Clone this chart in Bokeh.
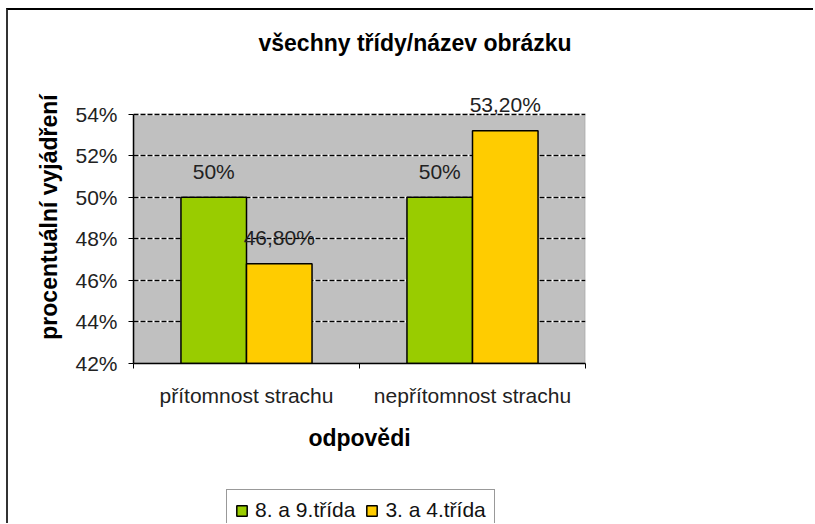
from bokeh.plotting import figure
from bokeh.layouts import column
from bokeh.models import (ColumnDataSource, Range1d, LinearAxis, BoxAnnotation,
                          FixedTicker, Grid, Legend, LegendItem, LabelSet, PrintfTickFormatter)
from bokeh.core.properties import value
from bokeh.transform import dodge
from bokeh.embed import file_html
from bokeh.resources import INLINE

# ---- data ----
categories = ["přítomnost strachu", "nepřítomnost strachu"]
series_names = ["8. a 9.třída", "3. a 4.třída"]
values_89 = [50.0, 50.0]
values_34 = [46.8, 53.2]
labels_89 = ["50%", "50%"]
labels_34 = ["46,80%", "53,20%"]
y_ticks = [42, 44, 46, 48, 50, 52, 54]
title_text = "všechny třídy/název obrázku"
x_title = "odpovědi"
y_title = "procentuální vyjádření"

# ---- style / layout ----
FONT = "Liberation Sans"
GREEN = "#99CC00"
YELLOW = "#FFCC00"
BG = "#C0C0C0"
BAR_W = 0.29
OFF = BAR_W / 2
Y_END = 56.1          # head-room above the 54% plot area for the data labels
LEFT = 125

n = len(categories)
centers = [i + 0.5 for i in range(n)]      # category slot centres on a 0..n axis
bounds = list(range(n + 1))                # slot boundaries (tick marks)

W, H = 805, 477
p = figure(width=W, height=H,
           x_range=Range1d(0, n),
           y_range=Range1d(y_ticks[0], Y_END),
           output_backend="svg", toolbar_location=None,
           x_axis_location=None, y_axis_location="left",
           min_border_left=LEFT, min_border_right=228,
           min_border_top=60, min_border_bottom=124)

p.background_fill_color = "white"
p.border_fill_color = "white"
p.outline_line_color = None

# grey plot area (42%..54%)
p.add_layout(BoxAnnotation(bottom=y_ticks[0], top=y_ticks[-1], fill_color=BG, fill_alpha=1,
                           line_color="#808080", line_width=2, level="image"))

# title
p.title.text = title_text
p.title.align = "left"
p.title.offset = 125
p.title.standoff = 30
p.title.text_font = FONT
p.title.text_font_size = "23px"
p.title.text_font_style = "bold"
p.title.text_color = "black"

# y axis
ya = p.yaxis[0]
ya.bounds = (y_ticks[0], y_ticks[-1])
ya.ticker = FixedTicker(ticks=y_ticks)
ya.formatter = PrintfTickFormatter(format="%d%%")
ya.major_tick_out = 5
ya.major_tick_in = 0
ya.minor_tick_line_color = None
ya.axis_line_color = "black"
ya.axis_line_width = 1.5
ya.major_tick_line_color = "black"
ya.major_label_standoff = 11
ya.major_label_text_font = FONT
ya.major_label_text_font_size = "21px"
ya.major_label_text_color = "#222222"
ya.axis_label = y_title
ya.axis_label_standoff = 10
ya.axis_label_text_font = FONT
ya.axis_label_text_font_size = "23px"
ya.axis_label_text_font_style = "bold"
ya.axis_label_text_color = "black"

# x axis: category labels at slot centres, tick marks at slot boundaries
ax = LinearAxis(ticker=FixedTicker(ticks=centers, minor_ticks=bounds),
                major_label_overrides={c: lab for c, lab in zip(centers, categories)},
                major_tick_line_color=None, major_tick_out=0, major_tick_in=0,
                minor_tick_line_color="black", minor_tick_out=5, minor_tick_in=0,
                axis_line_color="black", axis_line_width=1.5,
                major_label_standoff=15,
                major_label_text_font=FONT, major_label_text_font_size="21px",
                major_label_text_color="#222222",
                axis_label=x_title, axis_label_standoff=15, axis_label_text_font=FONT,
                axis_label_text_font_size="23px", axis_label_text_font_style="bold",
                axis_label_text_color="black")
p.add_layout(ax, "below")

# grids: white line with black dashes on it
p.xgrid.visible = False
g = p.ygrid[0]
g.ticker = FixedTicker(ticks=y_ticks)
g.grid_line_color = "white"
g.grid_line_width = 2
p.add_layout(Grid(dimension=1, ticker=FixedTicker(ticks=y_ticks), grid_line_color="black",
                  grid_line_dash="5 2", grid_line_width=1.5))

src = ColumnDataSource(dict(x=centers, a=values_89, b=values_34, la=labels_89, lb=labels_34))
r1 = p.vbar(x=dodge("x", -OFF), top="a", bottom=y_ticks[0], width=BAR_W,
            fill_color=GREEN, line_color="black", line_width=1.5, source=src)
r2 = p.vbar(x=dodge("x", OFF), top="b", bottom=y_ticks[0], width=BAR_W,
            fill_color=YELLOW, line_color="black", line_width=1.5, source=src)

for col, lcol, off in (("a", "la", -OFF), ("b", "lb", OFF)):
    p.add_layout(LabelSet(x=dodge("x", off), y=col, text=lcol, source=src,
                          y_offset=26, text_align="center", text_baseline="middle",
                          text_font=value(FONT), text_font_size="21px", text_color="#222222"))

# ---- legend strip under the chart ----
p2 = figure(width=W, height=36, x_range=Range1d(0, 1), y_range=Range1d(0, 1),
            output_backend="svg", toolbar_location=None,
            x_axis_location=None, y_axis_location=None,
            min_border_left=LEFT, min_border_top=1, min_border_right=228, min_border_bottom=0)
p2.title.visible = False
p2.outline_line_color = None
p2.grid.visible = False
p2.border_fill_color = "white"
p2.background_fill_color = "white"
# swatch renderers for the legend (their single bar lies below the visible range,
# under the legend box)
k1 = p2.vbar(x=[0.5], top=[-2], bottom=-3, width=0.1,
             fill_color=GREEN, line_color="black", line_width=1.5)
k2 = p2.vbar(x=[0.5], top=[-2], bottom=-3, width=0.1,
             fill_color=YELLOW, line_color="black", line_width=1.5)
legend = Legend(items=[LegendItem(label=series_names[0], renderers=[k1]),
                       LegendItem(label=series_names[1], renderers=[k2])],
                orientation="horizontal", location=(93, -8),
                label_text_font=FONT, label_text_font_size="21px", label_text_color="#111111",
                glyph_width=13, glyph_height=13, label_height=22, label_standoff=7, spacing=10,
                padding=8, margin=0,
                border_line_color="#333333", border_line_width=1,
                background_fill_color="white", background_fill_alpha=1)
p2.add_layout(legend, "center")

layout = column(p, p2, spacing=0,
                styles={"margin-left": "6px", "margin-top": "8px",
                        "border-left": "2px solid #333333", "border-top": "2px solid #000000"})

open("out.html", "w").write(file_html(layout, INLINE))
